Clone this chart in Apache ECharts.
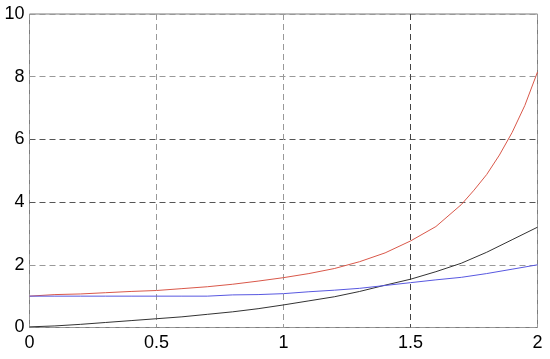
<!DOCTYPE html>
<html>
<head>
<meta charset="utf-8">
<script src="https://cdn.jsdelivr.net/npm/echarts@6/dist/echarts.min.js"></script>
<style>
  html, body { margin: 0; padding: 0; background: #fff; }
  #main { width: 550px; height: 359px; }
</style>
</head>
<body>
<div id="main"></div>
<script>
  // x samples
  const xs = [0, 0.1, 0.2, 0.3, 0.4, 0.5, 0.6, 0.7, 0.8, 0.9, 1.0,
              1.1, 1.2, 1.3, 1.4, 1.5, 1.6, 1.7, 1.8, 1.9, 2.0]
  // red curve is sampled a bit finer near the steep end
  const redXs = [0, 0.1, 0.2, 0.3, 0.4, 0.5, 0.6, 0.7, 0.8, 0.9, 1.0,
                 1.1, 1.2, 1.3, 1.4, 1.5, 1.6, 1.7, 1.75, 1.8, 1.85, 1.9, 1.95, 2.0]
  const redVals = [1.0, 1.05, 1.07, 1.11, 1.15, 1.18, 1.24, 1.3, 1.38, 1.48, 1.59,
                   1.72, 1.88, 2.1, 2.38, 2.76, 3.22, 3.92, 4.38, 4.88, 5.5, 6.22, 7.08, 8.15]
  // black curve
  const blackVals = [0.02, 0.05, 0.1, 0.16, 0.22, 0.28, 0.34, 0.42, 0.5, 0.6, 0.72,
                     0.85, 0.98, 1.15, 1.35, 1.54, 1.78, 2.05, 2.4, 2.8, 3.2]
  // blue curve
  const blueVals = [1.0, 1.0, 1.0, 1.0, 1.0, 1.0, 1.0, 1.0, 1.04, 1.05, 1.08,
                    1.14, 1.19, 1.25, 1.34, 1.43, 1.52, 1.6, 1.72, 1.86, 2.0]

  const pairs = (xv, ys) => xv.map((x, i) => [x, ys[i]])

  const chart = echarts.init(document.getElementById('main'))
  const lineSeries = (name, data, color) => ({
    name: name,
    type: 'line',
    data: data,
    showSymbol: false,
    smooth: false,
    lineStyle: { color: color, width: 1 },
    itemStyle: { color: color },
    z: 3
  })

  chart.setOption({
    animation: false,
    backgroundColor: '#fff',
    grid: {
      left: 29.5, right: 12.5, top: 14, bottom: 31.5,
      show: true, borderColor: '#7a7a7a', borderWidth: 1
    },
    xAxis: {
      type: 'value', min: 0, max: 2, interval: 0.5,
      axisLine: { show: false },
      axisTick: { show: false },
      axisLabel: { color: '#000', fontSize: 18, fontFamily: 'Liberation Sans', margin: 7 },
      splitLine: {
        lineStyle: {
          type: [6, 4],
          color: ['#999', '#999', '#999', '#444', '#999']
        }
      }
    },
    yAxis: {
      type: 'value', min: 0, max: 10, interval: 2,
      axisLine: { show: false },
      axisTick: { show: false },
      axisLabel: { color: '#000', fontSize: 18, fontFamily: 'Liberation Sans', margin: 5 },
      splitLine: {
        lineStyle: {
          type: [6, 4],
          color: ['#999', '#999', '#555', '#555', '#999', '#999']
        }
      }
    },
    series: [
      lineSeries('red', pairs(redXs, redVals), '#d9584a'),
      lineSeries('black', pairs(xs, blackVals), '#333333'),
      lineSeries('blue', pairs(xs, blueVals), '#5858e0')
    ]
  })
</script>
</body>
</html>
